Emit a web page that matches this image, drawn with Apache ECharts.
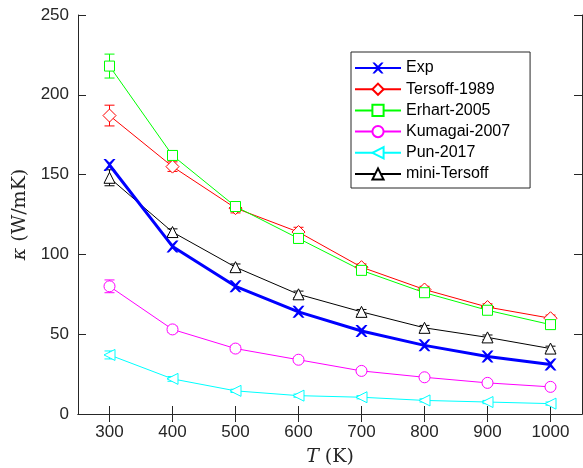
<!DOCTYPE html>
<html>
<head>
<meta charset="utf-8">
<script src="https://cdn.jsdelivr.net/npm/echarts@6/dist/echarts.min.js"></script>
<style>
  html, body { margin: 0; padding: 0; background: #fff; }
  #chart { width: 583px; height: 468px; }
</style>
</head>
<body>
<div id="chart"></div>
<script>
  // temperatures (K)
  let temps = [300, 400, 500, 600, 700, 800, 900, 1000]
  let xTicks = [300, 400, 500, 600, 700, 800, 900, 1000]

  // thermal conductivity (W/mK)
  let expData = [156, 105, 80, 64, 52, 43, 36, 31]
  let tersoffData = [187, 155, 129, 114, 92, 78, 67, 60]
  let tersoffErr = [6.5, 3, 3, 3, 2, 2, 2, 2]
  let erhartData = [218, 162, 130, 110, 90, 76, 65, 56]
  let erhartErr = [7.5, 3, 3, 3, 2, 2, 2, 2]
  let kumagaiData = [80, 53, 41, 34, 27, 23, 19.5, 17]
  let kumagaiErr = [4, 2, 2, 1.5, 1, 1, 1, 1]
  let punData = [37, 22, 14.5, 11.5, 10.5, 8.5, 7.5, 6.5]
  let punErr = [2.5, 1.5, 1, 1, 1, 1, 1, 1]
  let miniData = [148, 114, 92, 75, 64, 54, 48, 41]
  let miniErr = [5, 2, 2, 2, 1.5, 1.5, 1.5, 1.5]

  let crossPath = 'path://M0,0L2,0L5,3L8,0L10,0L6,5L10,10L8,10L5,7L2,10L0,10L4,5Z'

  let dom = document.getElementById('chart')
  let myChart = echarts.init(dom)

  function pts(vals){
      return temps.map((t, i) => [t, vals[i]])
  }

  function errSeries(name, vals, errs, color){
      return {
          name: name + ' err',
          type: 'custom',
          z: 3,
          data: temps.map((t, i) => [t, vals[i] - errs[i], vals[i] + errs[i]]),
          renderItem: function(params, api){
              let lo = api.coord([api.value(0), api.value(1)])
              let hi = api.coord([api.value(0), api.value(2)])
              let hw = 5
              let st = { stroke: color, lineWidth: 1 }
              return {
                  type: 'group',
                  children: [
                      { type: 'line', shape: { x1: lo[0], y1: lo[1], x2: hi[0], y2: hi[1] }, style: st },
                      { type: 'line', shape: { x1: lo[0] - hw, y1: lo[1], x2: lo[0] + hw, y2: lo[1] }, style: st },
                      { type: 'line', shape: { x1: hi[0] - hw, y1: hi[1], x2: hi[0] + hw, y2: hi[1] }, style: st }
                  ]
              }
          }
      }
  }

  function lineSeries(name, vals, color, symbol, size, width, rotate){
      return {
          name: name,
          type: 'line',
          data: pts(vals),
          symbol: symbol,
          symbolSize: size,
          symbolRotate: rotate || 0,
          showAllSymbol: true,
          z: 4,
          lineStyle: { color: color, width: width },
          itemStyle: { color: '#fff', borderColor: color, borderWidth: 1 },
          emphasis: { disabled: true }
      }
  }

  let axisCol = '#262626'
  let font = 'Liberation Sans, Arial, sans-serif'
  let serif = 'DejaVu Serif, Liberation Serif, serif'

  let option = {
      animation: false,
      backgroundColor: '#fff',
      grid: {
          left: 78,
          right: 1,
          top: 15,
          bottom: 54,
          outerBoundsMode: 'none',
          containLabel: false
      },
      legend: {
          orient: 'vertical',
          left: 351,
          top: 52,
          padding: [8, 20, 6, 3],
          itemWidth: 46,
          itemHeight: 14,
          itemGap: 5.2,
          borderColor: '#262626',
          borderWidth: 1,
          backgroundColor: '#fff',
          textStyle: { fontFamily: font, fontSize: 16, color: '#000' },
          data: ['Exp', 'Tersoff-1989', 'Erhart-2005', 'Kumagai-2007', 'Pun-2017', 'mini-Tersoff']
      },
      xAxis: [{
          type: 'value',
          min: 250,
          max: 1050,
          name: '{i|T} (K)',
          nameLocation: 'middle',
          nameGap: 34,
          nameTextStyle: {
              fontFamily: serif,
              fontSize: 19,
              color: '#262626',
              rich: { i: { fontStyle: 'italic', fontFamily: serif, fontSize: 19, color: '#262626' } }
          },
          axisLine: { lineStyle: { color: axisCol, width: 1 } },
          axisTick: { inside: true, length: 8, customValues: xTicks, lineStyle: { color: axisCol } },
          axisLabel: { customValues: xTicks, formatter: v => String(v), fontFamily: font, fontSize: 17, color: '#262626', margin: 10 },
          splitLine: { show: false }
      }, {
          type: 'value',
          position: 'top',
          min: 250,
          max: 1050,
          axisLine: { show: true, lineStyle: { color: axisCol, width: 1 } },
          axisTick: { show: true, inside: true, length: 8, customValues: xTicks, lineStyle: { color: axisCol } },
          axisLabel: { show: false },
          splitLine: { show: false }
      }],
      yAxis: [{
          type: 'value',
          min: 0,
          max: 250,
          interval: 50,
          name: '{i|κ} (W/mK)',
          nameLocation: 'middle',
          nameGap: 47,
          nameTextStyle: {
              fontFamily: serif,
              fontSize: 19,
              color: '#262626',
              rich: { i: { fontStyle: 'italic', fontFamily: serif, fontSize: 19, color: '#262626' } }
          },
          axisLine: { show: true, lineStyle: { color: axisCol, width: 1 } },
          axisTick: { show: true, inside: true, length: 8, lineStyle: { color: axisCol } },
          axisLabel: { fontFamily: font, fontSize: 17, color: '#262626', margin: 9 },
          splitLine: { show: false }
      }, {
          type: 'value',
          position: 'right',
          min: 0,
          max: 250,
          interval: 50,
          axisLine: { show: true, lineStyle: { color: axisCol, width: 1 } },
          axisTick: { show: true, inside: true, length: 8, lineStyle: { color: axisCol } },
          axisLabel: { show: false },
          splitLine: { show: false }
      }],
      series: [
          errSeries('Tersoff-1989', tersoffData, tersoffErr, '#ff0000'),
          errSeries('Erhart-2005', erhartData, erhartErr, '#00ff00'),
          errSeries('Kumagai-2007', kumagaiData, kumagaiErr, '#ff00ff'),
          errSeries('Pun-2017', punData, punErr, '#00ffff'),
          errSeries('mini-Tersoff', miniData, miniErr, '#000000'),
          {
              name: 'Exp',
              type: 'line',
              data: pts(expData),
              symbol: crossPath,
              symbolSize: 12,
              z: 5,
              lineStyle: { color: '#0000ff', width: 3 },
              itemStyle: { color: '#0000ff' },
              emphasis: { disabled: true }
          },
          lineSeries('Tersoff-1989', tersoffData, '#ff0000', 'diamond', 13, 1),
          lineSeries('Erhart-2005', erhartData, '#00ff00', 'rect', 10, 1),
          lineSeries('Kumagai-2007', kumagaiData, '#ff00ff', 'circle', 11, 1),
          lineSeries('Pun-2017', punData, '#00ffff', 'triangle', 11, 1, 90),
          lineSeries('mini-Tersoff', miniData, '#000000', 'triangle', 11, 1)
      ]
  }

  myChart.setOption(option, true)
</script>
</body>
</html>
